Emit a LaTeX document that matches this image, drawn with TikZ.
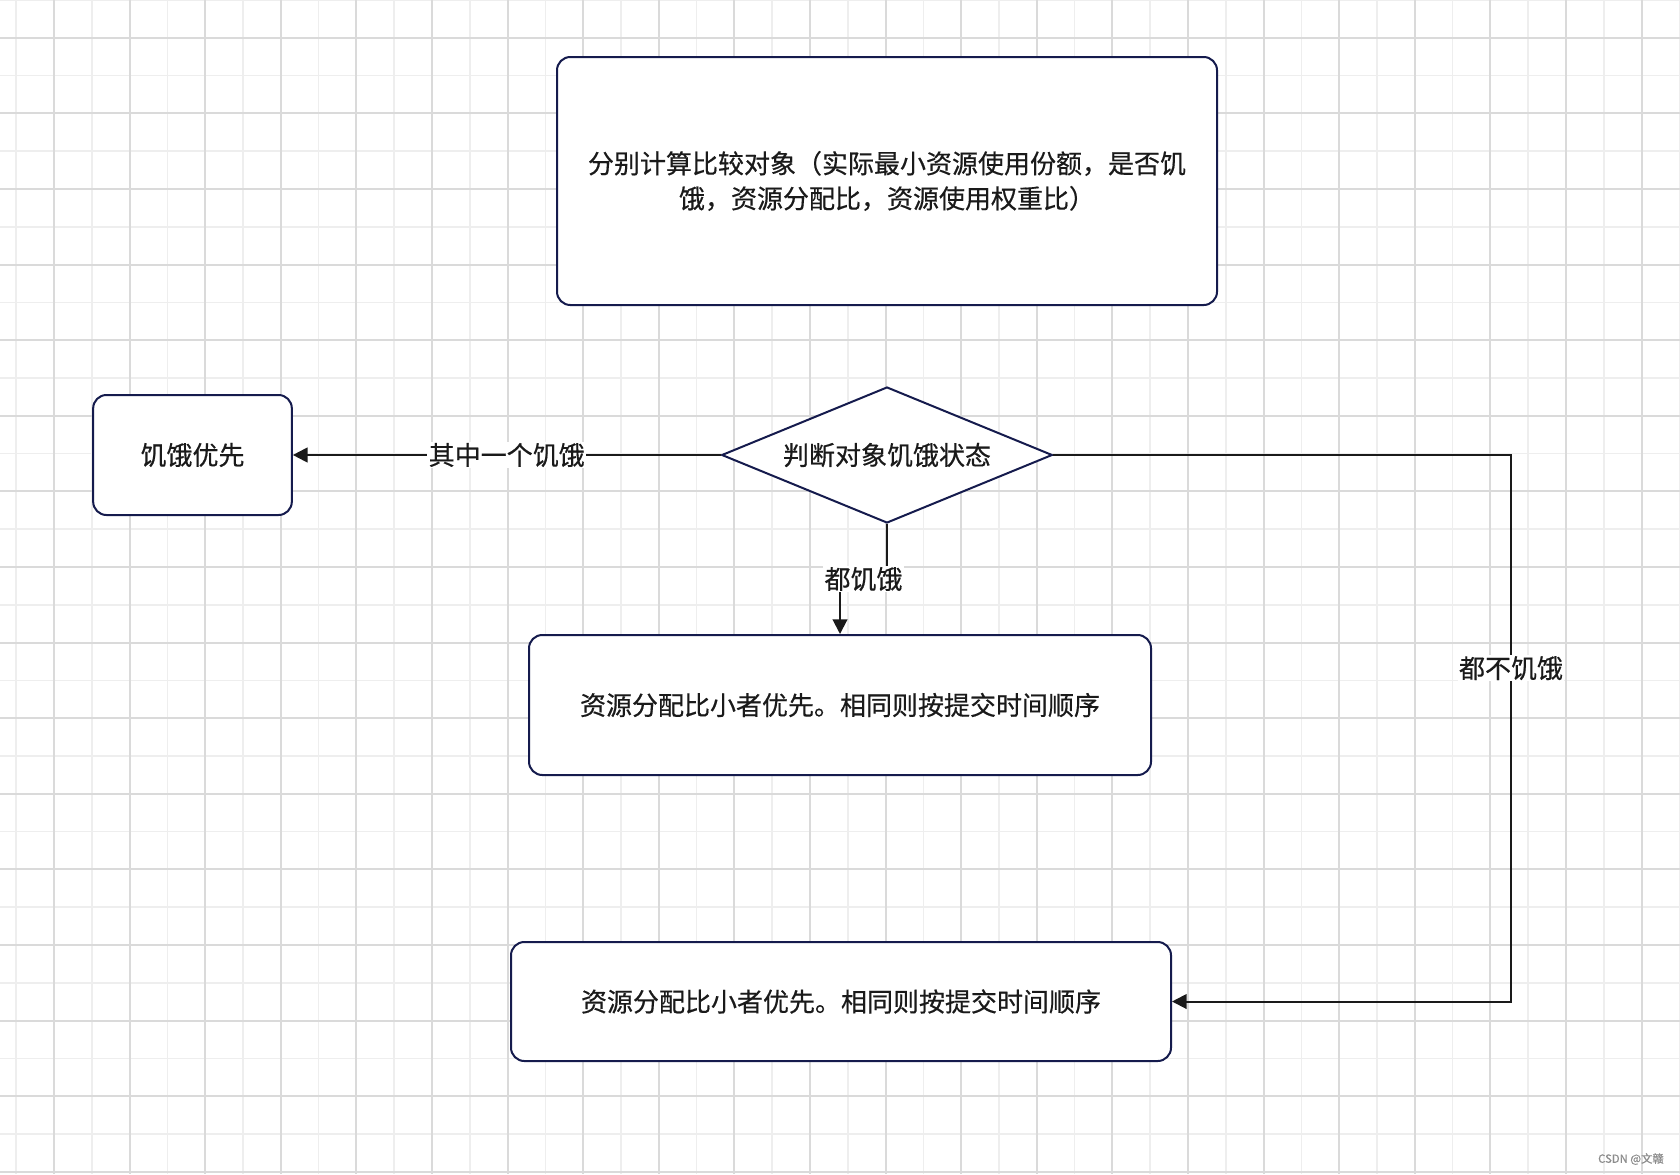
\documentclass[tikz,border=0pt]{standalone}
\usepackage{fontspec}
\setmainfont{Noto Sans CJK SC}[FakeBold=0.5]
\usetikzlibrary{arrows.meta,shapes.geometric}
\definecolor{navy}{HTML}{151B4D}
\definecolor{ink}{HTML}{1A1A1A}
\definecolor{gridlight}{HTML}{EEEEEE}
\definecolor{griddark}{HTML}{DADADA}
\tikzset{
  box/.style={draw=navy, line width=1.5pt, fill=white, rounded corners=10pt, align=center, text=ink, font=\fontsize{19.5pt}{26.25pt}\selectfont, inner sep=0pt},
  dia/.style={draw=navy, line width=1.5pt, fill=white, diamond, inner sep=0pt, text=ink, font=\fontsize{19.5pt}{24pt}\selectfont},
  edge/.style={draw=ink, line width=1.5pt, -{Triangle[length=11pt,width=11pt]}},
  lbl/.style={fill=white, inner sep=1pt, text=ink, font=\fontsize{19.5pt}{24pt}\selectfont}
}
\begin{document}
\begin{tikzpicture}[x=0.75pt,y=-0.75pt]
\useasboundingbox (0,0) rectangle (1680,1174);
\fill[white] (0,0) rectangle (1680,1174);
% grid
\foreach \n in {0,2,...,44}{\draw[gridlight,line width=1.1pt] ({16.2+37.8*\n},0) -- ({16.2+37.8*\n},1174);}
\foreach \n in {0,2,...,30}{\draw[gridlight,line width=1.1pt] (0,{37.8*\n}) -- (1680,{37.8*\n});}
\foreach \n in {1,3,...,43}{\draw[griddark,line width=1.5pt] ({16.2+37.8*\n},0) -- ({16.2+37.8*\n},1174);}
\foreach \n in {1,3,...,31}{\draw[griddark,line width=1.5pt] (0,{37.8*\n}) -- (1680,{37.8*\n});}
% nodes
\node[box, minimum width=495pt, minimum height=186pt] (top) at (887,181) {分别计算比较对象（实际最小资源使用份额，是否饥\\饿，资源分配比，资源使用权重比）};
\node[dia, minimum width=248pt, minimum height=102pt] (d) at (887,455) {\makebox[0pt]{\smash{\raisebox{-0.38em}{判断对象饥饿状态}}}};
\node[box, minimum width=149pt, minimum height=90pt] (l) at (192.5,455) {饥饿优先};
\node[box, minimum width=466.5pt, minimum height=105pt] (m) at (840,705) {资源分配比小者优先。相同则按提交时间顺序};
\node[box, minimum width=495pt, minimum height=89.25pt] (b) at (841,1001.5) {资源分配比小者优先。相同则按提交时间顺序};
% connectors
\draw[edge] (d.west) -- node[lbl]{其中一个饥饿} (l.east);
\coordinate (j1) at (887,579);
\coordinate (j2) at (840,579);
\draw[edge] (d.south) -- (j1) -- node[lbl]{都饥饿} (j2) -- (m.north);
\coordinate (r1) at (1511,455);
\coordinate (r2) at (1511,1001.5);
\draw[edge] (d.east) -- (r1) -- node[lbl,pos=0.39]{都不饥饿} (r2) -- (b.east);
% watermark
\node[anchor=east, text=black!45, font=\fontsize{8.5pt}{10pt}\selectfont, inner sep=0pt] (wm) at (1664,1159) {CSDN @文赣};
\end{tikzpicture}
\end{document}
